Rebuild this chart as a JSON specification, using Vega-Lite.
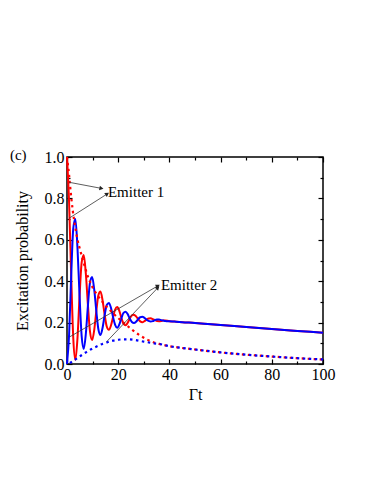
{
  "$schema": "https://vega.github.io/schema/vega-lite/v6.json",
  "width": 256,
  "height": 207,
  "autosize": {"type": "none"},
  "padding": {"left": 67, "top": 157, "right": 51, "bottom": 120},
  "background": "white",
  "config": {
    "view": {"stroke": "black", "strokeWidth": 1.5},
    "axis": {
      "domain": false, "grid": false,
      "labelFont": "Liberation Serif", "labelFontSize": 16, "labelColor": "black",
      "titleFont": "Liberation Serif", "titleFontSize": 16, "titleFontWeight": "normal", "titleColor": "black",
      "tickColor": "black", "tickWidth": 1.2
    }
  },
  "data": {"values": [
    {"curve": "E1", "t": 0, "p": 1.0}, {"curve": "E1", "t": 0.82, "p": 0.778}, {"curve": "E1", "t": 1.64, "p": 0.425}, {"curve": "E1", "t": 2.45, "p": 0.125},
    {"curve": "E1", "t": 3.27, "p": 0.02}, {"curve": "E1", "t": 4.09, "p": 0.124}, {"curve": "E1", "t": 4.91, "p": 0.327}, {"curve": "E1", "t": 5.72, "p": 0.49},
    {"curve": "E1", "t": 6.54, "p": 0.527}, {"curve": "E1", "t": 7.36, "p": 0.436}, {"curve": "E1", "t": 8.18, "p": 0.283}, {"curve": "E1", "t": 8.99, "p": 0.156},
    {"curve": "E1", "t": 9.81, "p": 0.116}, {"curve": "E1", "t": 10.63, "p": 0.164}, {"curve": "E1", "t": 11.45, "p": 0.256}, {"curve": "E1", "t": 12.26, "p": 0.332},
    {"curve": "E1", "t": 13.08, "p": 0.35}, {"curve": "E1", "t": 13.9, "p": 0.307}, {"curve": "E1", "t": 14.72, "p": 0.237}, {"curve": "E1", "t": 15.53, "p": 0.181},
    {"curve": "E1", "t": 16.35, "p": 0.165}, {"curve": "E1", "t": 17.17, "p": 0.186}, {"curve": "E1", "t": 17.99, "p": 0.227}, {"curve": "E1", "t": 18.8, "p": 0.263},
    {"curve": "E1", "t": 19.62, "p": 0.275}, {"curve": "E1", "t": 20.44, "p": 0.257}, {"curve": "E1", "t": 21.26, "p": 0.222}, {"curve": "E1", "t": 22.07, "p": 0.195},
    {"curve": "E1", "t": 22.89, "p": 0.187}, {"curve": "E1", "t": 23.71, "p": 0.199}, {"curve": "E1", "t": 24.53, "p": 0.219}, {"curve": "E1", "t": 25.34, "p": 0.235},
    {"curve": "E1", "t": 26.16, "p": 0.238}, {"curve": "E1", "t": 26.98, "p": 0.23}, {"curve": "E1", "t": 27.8, "p": 0.217}, {"curve": "E1", "t": 28.61, "p": 0.206},
    {"curve": "E1", "t": 29.43, "p": 0.202}, {"curve": "E1", "t": 30.25, "p": 0.207}, {"curve": "E1", "t": 31.07, "p": 0.214}, {"curve": "E1", "t": 31.88, "p": 0.22},
    {"curve": "E1", "t": 32.7, "p": 0.221}, {"curve": "E1", "t": 33.52, "p": 0.217}, {"curve": "E1", "t": 34.34, "p": 0.212}, {"curve": "E1", "t": 35.15, "p": 0.2075},
    {"curve": "E1", "t": 35.97, "p": 0.207}, {"curve": "E1", "t": 36.79, "p": 0.208}, {"curve": "E1", "t": 37.61, "p": 0.21}, {"curve": "E1", "t": 38.42, "p": 0.21},
    {"curve": "E1", "t": 39.24, "p": 0.209}, {"curve": "E1", "t": 40.06, "p": 0.207}, {"curve": "E1", "t": 42, "p": 0.205}, {"curve": "E1", "t": 45, "p": 0.202},
    {"curve": "E1", "t": 50, "p": 0.198}, {"curve": "E1", "t": 55, "p": 0.193}, {"curve": "E1", "t": 60, "p": 0.188}, {"curve": "E1", "t": 70, "p": 0.179},
    {"curve": "E1", "t": 80, "p": 0.169}, {"curve": "E1", "t": 90, "p": 0.16}, {"curve": "E1", "t": 100, "p": 0.151},

    {"curve": "E2", "t": 0, "p": 0.0}, {"curve": "E2", "t": 0.82, "p": 0.142}, {"curve": "E2", "t": 1.64, "p": 0.425}, {"curve": "E2", "t": 2.45, "p": 0.655},
    {"curve": "E2", "t": 3.27, "p": 0.7}, {"curve": "E2", "t": 4.09, "p": 0.562}, {"curve": "E2", "t": 4.91, "p": 0.327}, {"curve": "E2", "t": 5.72, "p": 0.136},
    {"curve": "E2", "t": 6.54, "p": 0.073}, {"curve": "E2", "t": 7.36, "p": 0.146}, {"curve": "E2", "t": 8.18, "p": 0.283}, {"curve": "E2", "t": 8.99, "p": 0.394},
    {"curve": "E2", "t": 9.81, "p": 0.42}, {"curve": "E2", "t": 10.63, "p": 0.36}, {"curve": "E2", "t": 11.45, "p": 0.256}, {"curve": "E2", "t": 12.26, "p": 0.168},
    {"curve": "E2", "t": 13.08, "p": 0.14}, {"curve": "E2", "t": 13.9, "p": 0.175}, {"curve": "E2", "t": 14.72, "p": 0.237}, {"curve": "E2", "t": 15.53, "p": 0.285},
    {"curve": "E2", "t": 16.35, "p": 0.295}, {"curve": "E2", "t": 17.17, "p": 0.272}, {"curve": "E2", "t": 17.99, "p": 0.227}, {"curve": "E2", "t": 18.8, "p": 0.189},
    {"curve": "E2", "t": 19.62, "p": 0.175}, {"curve": "E2", "t": 20.44, "p": 0.191}, {"curve": "E2", "t": 21.26, "p": 0.222}, {"curve": "E2", "t": 22.07, "p": 0.247},
    {"curve": "E2", "t": 22.89, "p": 0.253}, {"curve": "E2", "t": 23.71, "p": 0.241}, {"curve": "E2", "t": 24.53, "p": 0.219}, {"curve": "E2", "t": 25.34, "p": 0.203},
    {"curve": "E2", "t": 26.16, "p": 0.198}, {"curve": "E2", "t": 26.98, "p": 0.204}, {"curve": "E2", "t": 27.8, "p": 0.217}, {"curve": "E2", "t": 28.61, "p": 0.226},
    {"curve": "E2", "t": 29.43, "p": 0.228}, {"curve": "E2", "t": 30.25, "p": 0.223}, {"curve": "E2", "t": 31.07, "p": 0.214}, {"curve": "E2", "t": 31.88, "p": 0.208},
    {"curve": "E2", "t": 32.7, "p": 0.205}, {"curve": "E2", "t": 33.52, "p": 0.207}, {"curve": "E2", "t": 34.34, "p": 0.212}, {"curve": "E2", "t": 35.15, "p": 0.2145},
    {"curve": "E2", "t": 35.97, "p": 0.215}, {"curve": "E2", "t": 36.79, "p": 0.212}, {"curve": "E2", "t": 37.61, "p": 0.21}, {"curve": "E2", "t": 38.42, "p": 0.208},
    {"curve": "E2", "t": 39.24, "p": 0.207}, {"curve": "E2", "t": 40.06, "p": 0.207}, {"curve": "E2", "t": 42, "p": 0.205}, {"curve": "E2", "t": 45, "p": 0.202},
    {"curve": "E2", "t": 50, "p": 0.198}, {"curve": "E2", "t": 55, "p": 0.193}, {"curve": "E2", "t": 60, "p": 0.188}, {"curve": "E2", "t": 70, "p": 0.179},
    {"curve": "E2", "t": 80, "p": 0.169}, {"curve": "E2", "t": 90, "p": 0.16}, {"curve": "E2", "t": 100, "p": 0.151},

    {"curve": "E1 dotted", "t": 0, "p": 1.0}, {"curve": "E1 dotted", "t": 0.4, "p": 0.96}, {"curve": "E1 dotted", "t": 0.8, "p": 0.915}, {"curve": "E1 dotted", "t": 1.2, "p": 0.862},
    {"curve": "E1 dotted", "t": 1.7, "p": 0.8}, {"curve": "E1 dotted", "t": 2.3, "p": 0.737}, {"curve": "E1 dotted", "t": 3.1, "p": 0.67}, {"curve": "E1 dotted", "t": 4, "p": 0.607},
    {"curve": "E1 dotted", "t": 5.3, "p": 0.543}, {"curve": "E1 dotted", "t": 6.5, "p": 0.49}, {"curve": "E1 dotted", "t": 8.3, "p": 0.418}, {"curve": "E1 dotted", "t": 10, "p": 0.37},
    {"curve": "E1 dotted", "t": 12, "p": 0.33}, {"curve": "E1 dotted", "t": 14.2, "p": 0.295}, {"curve": "E1 dotted", "t": 16, "p": 0.27}, {"curve": "E1 dotted", "t": 18, "p": 0.245},
    {"curve": "E1 dotted", "t": 20, "p": 0.222}, {"curve": "E1 dotted", "t": 22, "p": 0.2}, {"curve": "E1 dotted", "t": 24, "p": 0.18}, {"curve": "E1 dotted", "t": 26, "p": 0.16},
    {"curve": "E1 dotted", "t": 28, "p": 0.142}, {"curve": "E1 dotted", "t": 30, "p": 0.127}, {"curve": "E1 dotted", "t": 32, "p": 0.114}, {"curve": "E1 dotted", "t": 34, "p": 0.104},
    {"curve": "E1 dotted", "t": 36, "p": 0.097}, {"curve": "E1 dotted", "t": 40, "p": 0.086}, {"curve": "E1 dotted", "t": 44, "p": 0.079}, {"curve": "E1 dotted", "t": 50, "p": 0.07},
    {"curve": "E1 dotted", "t": 60, "p": 0.056}, {"curve": "E1 dotted", "t": 70, "p": 0.045}, {"curve": "E1 dotted", "t": 80, "p": 0.036}, {"curve": "E1 dotted", "t": 90, "p": 0.028},
    {"curve": "E1 dotted", "t": 100, "p": 0.022},

    {"curve": "E2 dotted", "t": 0, "p": 0.0}, {"curve": "E2 dotted", "t": 1, "p": 0.004}, {"curve": "E2 dotted", "t": 2, "p": 0.012}, {"curve": "E2 dotted", "t": 3, "p": 0.02},
    {"curve": "E2 dotted", "t": 4, "p": 0.028}, {"curve": "E2 dotted", "t": 6, "p": 0.045}, {"curve": "E2 dotted", "t": 8, "p": 0.061}, {"curve": "E2 dotted", "t": 10, "p": 0.075},
    {"curve": "E2 dotted", "t": 12, "p": 0.087}, {"curve": "E2 dotted", "t": 14, "p": 0.098}, {"curve": "E2 dotted", "t": 16, "p": 0.106}, {"curve": "E2 dotted", "t": 18, "p": 0.113},
    {"curve": "E2 dotted", "t": 20, "p": 0.117}, {"curve": "E2 dotted", "t": 22, "p": 0.119}, {"curve": "E2 dotted", "t": 24, "p": 0.119}, {"curve": "E2 dotted", "t": 26, "p": 0.117},
    {"curve": "E2 dotted", "t": 28, "p": 0.113}, {"curve": "E2 dotted", "t": 30, "p": 0.108}, {"curve": "E2 dotted", "t": 32, "p": 0.104}, {"curve": "E2 dotted", "t": 34, "p": 0.1},
    {"curve": "E2 dotted", "t": 36, "p": 0.097}, {"curve": "E2 dotted", "t": 40, "p": 0.086}, {"curve": "E2 dotted", "t": 44, "p": 0.079}, {"curve": "E2 dotted", "t": 50, "p": 0.07},
    {"curve": "E2 dotted", "t": 60, "p": 0.056}, {"curve": "E2 dotted", "t": 70, "p": 0.045}, {"curve": "E2 dotted", "t": 80, "p": 0.036}, {"curve": "E2 dotted", "t": 90, "p": 0.028},
    {"curve": "E2 dotted", "t": 100, "p": 0.022}
  ]},
  "resolve": {"axis": {"x": "independent", "y": "independent"}},
  "layer": [
    {
      "transform": [{"filter": "datum.curve === 'E1'"}],
      "mark": {"type": "line", "color": "#ff0000", "strokeWidth": 2, "interpolate": "monotone"},
      "encoding": {
        "x": {"field": "t", "type": "quantitative", "scale": {"domain": [0, 100], "nice": false, "zero": false},
          "axis": {"orient": "bottom", "title": "Γt", "values": [0, 10, 20, 30, 40, 50, 60, 70, 80, 90, 100],
            "labelExpr": "datum.value % 20 === 0 ? datum.label : ''",
            "tickSize": {"condition": {"test": "datum.value % 20 === 0", "value": -5}, "value": -3},
            "labelPadding": 7, "titlePadding": 4, "labelFlush": false}},
        "y": {"field": "p", "type": "quantitative", "scale": {"domain": [0, 1], "nice": false},
          "axis": {"orient": "left", "title": "Excitation probability", "values": [0, 0.1, 0.2, 0.3, 0.4, 0.5, 0.6, 0.7, 0.8, 0.9, 1.0],
            "labelExpr": "round(datum.value * 10) % 2 === 0 ? format(datum.value, '.1f') : ''",
            "tickSize": {"condition": {"test": "round(datum.value * 10) % 2 === 0", "value": -5}, "value": -3},
            "labelPadding": 8, "titlePadding": 14, "labelFlush": false}}
      }
    },
    {
      "transform": [{"filter": "datum.curve === 'E2'"}],
      "mark": {"type": "line", "color": "#0000ff", "strokeWidth": 2, "interpolate": "monotone"},
      "encoding": {
        "x": {"field": "t", "type": "quantitative", "scale": {"domain": [0, 100], "nice": false, "zero": false},
          "axis": {"orient": "top", "title": null, "labels": false, "values": [0, 10, 20, 30, 40, 50, 60, 70, 80, 90, 100],
            "tickSize": {"condition": {"test": "datum.value % 20 === 0", "value": -5}, "value": -3}}},
        "y": {"field": "p", "type": "quantitative", "scale": {"domain": [0, 1], "nice": false},
          "axis": {"orient": "right", "title": null, "labels": false, "values": [0, 0.1, 0.2, 0.3, 0.4, 0.5, 0.6, 0.7, 0.8, 0.9, 1.0],
            "tickSize": {"condition": {"test": "round(datum.value * 10) % 2 === 0", "value": -5}, "value": -3}}}
      }
    },
    {
      "transform": [{"filter": "datum.curve === 'E1 dotted'"}],
      "mark": {"type": "line", "color": "#ff0000", "strokeWidth": 2.2, "strokeDash": [2.5, 3.5], "strokeCap": "butt", "interpolate": "monotone"},
      "encoding": {
        "x": {"field": "t", "type": "quantitative", "scale": {"domain": [0, 100], "nice": false, "zero": false}, "axis": null},
        "y": {"field": "p", "type": "quantitative", "scale": {"domain": [0, 1], "nice": false}, "axis": null}
      }
    },
    {
      "transform": [{"filter": "datum.curve === 'E2 dotted'"}],
      "mark": {"type": "line", "color": "#0000ff", "strokeWidth": 2.2, "strokeDash": [2.5, 3.5], "strokeDashOffset": 3, "strokeCap": "butt", "interpolate": "monotone"},
      "encoding": {
        "x": {"field": "t", "type": "quantitative", "scale": {"domain": [0, 100], "nice": false, "zero": false}, "axis": null},
        "y": {"field": "p", "type": "quantitative", "scale": {"domain": [0, 1], "nice": false}, "axis": null}
      }
    },
    {
      "data": {"values": [
        {"id": "a1", "t": 0.78, "p": 0.878, "t2": 13.2, "p2": 0.849},
        {"id": "a2", "t": 0.78, "p": 0.704, "t2": 15.5, "p2": 0.82},
        {"id": "a3", "t": 1.17, "p": 0.132, "t2": 35.3, "p2": 0.376},
        {"id": "a4", "t": 15.5, "p": 0.108, "t2": 35.3, "p2": 0.366}
      ]},
      "layer": [
        {
          "mark": {"type": "rule", "color": "#333333", "strokeWidth": 0.8},
          "encoding": {
            "x": {"field": "t", "type": "quantitative", "scale": {"domain": [0, 100], "nice": false, "zero": false}, "axis": null},
            "y": {"field": "p", "type": "quantitative", "scale": {"domain": [0, 1], "nice": false}, "axis": null},
            "x2": {"field": "t2"},
            "y2": {"field": "p2"}
          }
        },
        {
          "transform": [{"filter": "datum.id === 'a1'"}],
          "mark": {"type": "point", "shape": "triangle", "filled": true, "color": "#222222", "size": 22, "angle": 101, "opacity": 1},
          "encoding": {
            "x": {"field": "t2", "type": "quantitative", "scale": {"domain": [0, 100], "nice": false, "zero": false}, "axis": null},
            "y": {"field": "p2", "type": "quantitative", "scale": {"domain": [0, 1], "nice": false}, "axis": null}
          }
        },
        {
          "transform": [{"filter": "datum.id === 'a2'"}],
          "mark": {"type": "point", "shape": "triangle", "filled": true, "color": "#222222", "size": 22, "angle": 57, "opacity": 1},
          "encoding": {
            "x": {"field": "t2", "type": "quantitative", "scale": {"domain": [0, 100], "nice": false, "zero": false}, "axis": null},
            "y": {"field": "p2", "type": "quantitative", "scale": {"domain": [0, 1], "nice": false}, "axis": null}
          }
        },
        {
          "transform": [{"filter": "datum.id === 'a3'"}],
          "mark": {"type": "point", "shape": "triangle", "filled": true, "color": "#222222", "size": 22, "angle": 60, "opacity": 1},
          "encoding": {
            "x": {"field": "t2", "type": "quantitative", "scale": {"domain": [0, 100], "nice": false, "zero": false}, "axis": null},
            "y": {"field": "p2", "type": "quantitative", "scale": {"domain": [0, 1], "nice": false}, "axis": null}
          }
        },
        {
          "transform": [{"filter": "datum.id === 'a4'"}],
          "mark": {"type": "point", "shape": "triangle", "filled": true, "color": "#222222", "size": 22, "angle": 44, "opacity": 1},
          "encoding": {
            "x": {"field": "t2", "type": "quantitative", "scale": {"domain": [0, 100], "nice": false, "zero": false}, "axis": null},
            "y": {"field": "p2", "type": "quantitative", "scale": {"domain": [0, 1], "nice": false}, "axis": null}
          }
        }
      ]
    },
    {
      "data": {"values": [
        {"label": "Emitter 1", "t": 16.0, "p": 0.833},
        {"label": "Emitter 2", "t": 36.7, "p": 0.382},
        {"label": "(c)", "t": -22.3, "p": 1.01}
      ]},
      "mark": {"type": "text", "font": "Liberation Serif", "fontSize": 15, "align": "left", "baseline": "middle", "color": "black"},
      "encoding": {
        "x": {"field": "t", "type": "quantitative", "scale": {"domain": [0, 100], "nice": false, "zero": false}, "axis": null},
        "y": {"field": "p", "type": "quantitative", "scale": {"domain": [0, 1], "nice": false}, "axis": null},
        "text": {"field": "label"}
      }
    }
  ]
}
